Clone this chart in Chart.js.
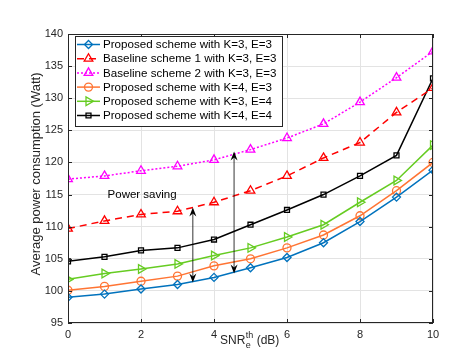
<!DOCTYPE html>
<html>
<head>
<meta charset="utf-8">
<script src="https://cdn.jsdelivr.net/npm/chart.js@4/dist/chart.umd.min.js"></script>
<style>
  html, body { margin: 0; padding: 0; background: #fff; }
  #wrap { width: 469px; height: 352px; }
</style>
</head>
<body>
<div id="wrap"><canvas id="chart" width="469" height="352"></canvas></div>
<script>
//Eje x (SNR umbral, dB)
const snr = [0, 1, 2, 3, 4, 5, 6, 7, 8, 9, 10];
const xTicks = [0, 2, 4, 6, 8, 10];
const yTicks = [95, 100, 105, 110, 115, 120, 125, 130, 135, 140];

//Series (Watt)
const propK3E3 = [99.0, 99.5, 100.3, 101.0, 102.1, 103.6, 105.2, 107.5, 110.8, 114.6, 118.8];
const base1K3E3 = [109.7, 110.9, 111.9, 112.4, 113.8, 115.6, 117.9, 120.7, 123.1, 127.8, 131.6];
const base2K3E3 = [117.4, 117.9, 118.7, 119.4, 120.4, 122.0, 123.8, 126.0, 129.4, 133.2, 137.3];
const propK4E3 = [100.1, 100.7, 101.5, 102.3, 103.9, 105.0, 106.7, 108.7, 111.7, 115.6, 120.0];
const propK3E4 = [101.8, 102.7, 103.4, 104.2, 105.5, 106.7, 108.4, 110.3, 113.8, 117.2, 122.7];
const propK4E4 = [104.6, 105.3, 106.3, 106.7, 108.0, 110.3, 112.6, 115.0, 117.9, 121.1, 133.1];

//Flechas de "Power saving": [x, yInferior, ySuperior]
const arrows = [[3.42, 101.3, 113.0], [4.55, 102.7, 121.7]];
const noteText = "Power saving";
const notePos = [2.03, 115.0];

const FONT = "'Liberation Sans', Arial, Helvetica, sans-serif";

function series(label, values, color, style, extra = {}) {
  return Object.assign({
    label,
    data: values.map((v, i) => ({ x: snr[i], y: v })),
    borderColor: color,
    backgroundColor: "rgba(0,0,0,0)",
    pointBorderColor: color,
    pointBackgroundColor: "rgba(0,0,0,0)",
    borderWidth: 1.5,
    pointBorderWidth: 1.3,
    pointRadius: 4,
    pointStyle: style,
    tension: 0
  }, extra);
}

const datasets = [
  series("Proposed scheme with K=3, E=3", propK3E3, "#0072BD", "rectRot"),
  series("Baseline scheme 1 with K=3, E=3", base1K3E3, "#FF0000", "triangle", { borderDash: [7, 5], pointRadius: 5 }),
  series("Baseline scheme 2 with K=3, E=3", base2K3E3, "#FF00FF", "triangle", { borderDash: [2, 2], pointRadius: 5 }),
  series("Proposed scheme with K=4, E=3", propK4E3, "#FF7433", "circle"),
  series("Proposed scheme with K=3, E=4", propK3E4, "#66CC22", "triangle", { pointRotation: 90, pointRadius: 5 }),
  series("Proposed scheme with K=4, E=4", propK4E4, "#000000", "rect", { pointRadius: 3.5 })
];

//Caja, ticks interiores, leyenda, flechas y títulos
const decor = {
  id: "decor",
  afterDatasetsDraw(chart) {
    const { ctx, chartArea: a, scales: { x, y } } = chart;
    ctx.save();

    //Marco
    ctx.strokeStyle = "#262626";
    ctx.lineWidth = 1;
    ctx.strokeRect(a.left + 0.5, a.top + 0.5, a.right - a.left - 1, a.bottom - a.top - 1);
    ctx.beginPath();
    xTicks.forEach(t => {
      const px = Math.round(x.getPixelForValue(t)) + 0.5;
      ctx.moveTo(px, a.bottom); ctx.lineTo(px, a.bottom - 4);
      ctx.moveTo(px, a.top); ctx.lineTo(px, a.top + 4);
    });
    yTicks.forEach(t => {
      const py = Math.round(y.getPixelForValue(t)) + 0.5;
      ctx.moveTo(a.left, py); ctx.lineTo(a.left + 4, py);
      ctx.moveTo(a.right, py); ctx.lineTo(a.right - 4, py);
    });
    ctx.stroke();

    //Flechas dobles
    ctx.strokeStyle = "#000"; ctx.fillStyle = "#000"; ctx.lineWidth = 0.8;
    arrows.forEach(([ax, y0, y1]) => {
      const px = x.getPixelForValue(ax);
      const pb = y.getPixelForValue(y0), pt = y.getPixelForValue(y1);
      ctx.beginPath(); ctx.moveTo(px, pb - 4); ctx.lineTo(px, pt + 4); ctx.stroke();
      [[pt, 1], [pb, -1]].forEach(([tip, d]) => {
        ctx.beginPath();
        ctx.moveTo(px, tip);
        ctx.lineTo(px - 3.5, tip + d * 9);
        ctx.lineTo(px, tip + d * 6);
        ctx.lineTo(px + 3.5, tip + d * 9);
        ctx.closePath(); ctx.fill();
      });
    });

    ctx.font = "11.5px " + FONT;
    ctx.fillStyle = "#000";
    ctx.textAlign = "center"; ctx.textBaseline = "middle";
    ctx.fillText(noteText, x.getPixelForValue(notePos[0]), y.getPixelForValue(notePos[1]));

    //Leyenda
    const lx = 75, ly = 36, lw = 207, lh = 90;
    ctx.fillStyle = "#fff";
    ctx.fillRect(lx, ly, lw, lh);
    ctx.strokeStyle = "#262626"; ctx.lineWidth = 1;
    ctx.strokeRect(lx + 0.5, ly + 0.5, lw, lh);
    chart.data.datasets.forEach((ds, i) => {
      const ry = ly + 8.5 + i * 14.2;
      ctx.strokeStyle = ds.borderColor;
      ctx.lineWidth = ds.borderWidth;
      ctx.setLineDash(ds.borderDash || []);
      ctx.beginPath(); ctx.moveTo(lx + 2, ry); ctx.lineTo(lx + 25, ry); ctx.stroke();
      ctx.setLineDash([]);
      ctx.lineWidth = ds.pointBorderWidth;
      ctx.fillStyle = "rgba(0,0,0,0)";
      Chart.helpers.drawPoint(ctx, {
        pointStyle: ds.pointStyle, rotation: ds.pointRotation || 0,
        radius: ds.pointRadius, borderWidth: ds.pointBorderWidth
      }, lx + 13.5, ry);
      ctx.fillStyle = "#000";
      ctx.font = "11.6px " + FONT;
      ctx.textAlign = "left"; ctx.textBaseline = "middle";
      ctx.fillText(ds.label, lx + 28, ry + 0.5);
    });

    //Título eje y
    ctx.save();
    ctx.translate(36, 174);
    ctx.rotate(-Math.PI / 2);
    ctx.font = "13px " + FONT;
    ctx.textAlign = "center"; ctx.textBaseline = "middle";
    ctx.fillStyle = "#262626";
    ctx.fillText("Average power consumption (Watt)", 0, 0);
    ctx.restore();

    //Título eje x: SNR_e^th (dB)
    ctx.fillStyle = "#262626";
    ctx.textAlign = "left"; ctx.textBaseline = "alphabetic";
    let cx = 220;
    const base = 344;
    ctx.font = "12px " + FONT;
    ctx.fillText("SNR", cx, base);
    cx += ctx.measureText("SNR").width + 0.5;
    ctx.font = "9px " + FONT;
    ctx.fillText("th", cx, base - 6);
    const wth = ctx.measureText("th").width;
    ctx.fillText("e", cx, base + 4);
    cx += Math.max(wth, ctx.measureText("e").width);
    ctx.font = "12px " + FONT;
    ctx.fillText(" (dB)", cx, base);

    ctx.restore();
  }
};

new Chart(document.getElementById("chart"), {
  type: "line",
  data: { datasets },
  options: {
    responsive: false,
    animation: false,
    devicePixelRatio: 1,
    layout: { padding: { left: 0, right: 36, top: 34, bottom: 0 } },
    plugins: { legend: { display: false }, tooltip: { enabled: false } },
    scales: {
      x: {
        type: "linear", min: 0, max: 10,
        afterBuildTicks: s => { s.ticks = xTicks.map(v => ({ value: v })); },
        afterFit: s => { s.height = 29; },
        grid: { color: "#e3e3e3", drawTicks: false },
        border: { display: false },
        ticks: { padding: 5, color: "#262626", font: { size: 11, family: FONT }, maxRotation: 0 }
      },
      y: {
        min: 95, max: 140,
        afterBuildTicks: s => { s.ticks = yTicks.map(v => ({ value: v })); },
        afterFit: s => { s.width = 68; },
        grid: { color: "#e3e3e3", drawTicks: false },
        border: { display: false },
        ticks: { padding: 5, color: "#262626", font: { size: 11, family: FONT } }
      }
    }
  },
  plugins: [decor]
});
</script>
</body>
</html>
